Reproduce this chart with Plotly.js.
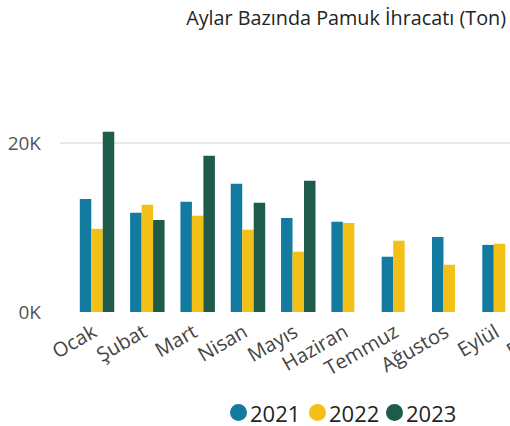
<!DOCTYPE html>
<html>
<head>
<meta charset="utf-8">
<script src="https://cdn.plot.ly/plotly-3.0.1.min.js"></script>
<style>
html, body { margin: 0; padding: 0; overflow: hidden; background: #fff; }
#chart { width: 575px; height: 426px; }
</style>
</head>
<body>
<div id="chart"></div>
<script>
const months = ["Ocak", "Şubat", "Mart", "Nisan", "Mayıs", "Haziran", "Temmuz", "Ağustos", "Eylül", "Ekim"];
const values2021 = [13400, 11750, 13050, 15200, 11150, 10700, 6550, 8900, 7950, null];
const values2022 = [9850, 12700, 11400, 9750, 7150, 10550, 8450, 5600, 8100, null];
const values2023 = [21350, 10900, 18500, 12950, 15550, null, null, null, null, null];
const seriesNames = ["2021", "2022", "2023"];
const seriesColors = ["#137AA0", "#F3C018", "#1E5B4B"];
const yTickVals = [0, 20000];
const yTickText = ["0K", "20K"];

const allValues = [values2021, values2022, values2023];
const FONT = "'Open Sans', 'Noto Sans', sans-serif";

const traces = allValues.map((vals, i) => ({
  type: "bar",
  x: months,
  y: vals,
  name: seriesNames[i],
  marker: { color: seriesColors[i] },
  showlegend: false,
  hoverinfo: "x+y+name"
}));

const W = 575, H = 426;
const M = { l: 60, r: 0, t: 101, b: 114 };
const plotW = W - M.l - M.r, plotH = H - M.t - M.b;
const px2x = px => (px - M.l) / plotW;
const py2y = py => (H - M.b - py) / plotH;

// legend row at the bottom: coloured dot directly followed by the year
const legendDotLeft = [230, 309, 386];
const dotSize = 17;
const legendCenterPy = 412.5;
const legendShapes = seriesColors.map((c, i) => ({
  type: "circle",
  xref: "paper",
  yref: "paper",
  x0: px2x(legendDotLeft[i]),
  x1: px2x(legendDotLeft[i] + dotSize),
  y0: py2y(legendCenterPy + dotSize / 2),
  y1: py2y(legendCenterPy - dotSize / 2),
  fillcolor: c,
  line: { width: 0 },
  layer: "above"
}));
const legendLabels = seriesNames.map((name, i) => ({
  xref: "paper",
  yref: "paper",
  x: px2x(legendDotLeft[i] + dotSize + 1),
  y: py2y(legendCenterPy),
  xanchor: "left",
  yanchor: "middle",
  showarrow: false,
  text: name,
  font: { family: FONT, size: 22, color: "#252423" }
}));

const layout = {
  width: W,
  height: H,
  margin: { l: M.l, r: M.r, t: M.t, b: M.b, pad: 0 },
  paper_bgcolor: "#fff",
  plot_bgcolor: "#fff",
  barmode: "group",
  bargap: 0.315,
  bargroupgap: 0,
  font: { family: FONT, color: "#444" },
  title: {
    text: "Aylar Bazında Pamuk İhracatı (Ton)",
    font: { family: FONT, size: 19.8, color: "#252423" },
    xref: "container",
    yref: "container",
    x: 506 / W,
    xanchor: "right",
    y: 1 - 18 / H,
    yanchor: "middle"
  },
  xaxis: {
    type: "category",
    range: [-0.736, 9.5],
    tickangle: -30,
    tickfont: { family: FONT, size: 20, color: "#444" },
    showgrid: false,
    zeroline: false,
    showline: false,
    ticks: "",
    ticklabelstandoff: 4,
    ticklabelshift: -4,
    fixedrange: true
  },
  yaxis: {
    range: [0, 25000],
    tickvals: yTickVals,
    ticktext: yTickText,
    tickfont: { family: FONT, size: 19, color: "#555" },
    showgrid: true,
    gridcolor: "#E8E8E8",
    gridwidth: 2,
    zeroline: false,
    showline: false,
    ticks: "",
    ticklabelstandoff: 18,
    fixedrange: true
  },
  showlegend: false,
  shapes: legendShapes,
  annotations: legendLabels
};

Plotly.newPlot("chart", traces, layout, { displayModeBar: false, staticPlot: true });
</script>
</body>
</html>
